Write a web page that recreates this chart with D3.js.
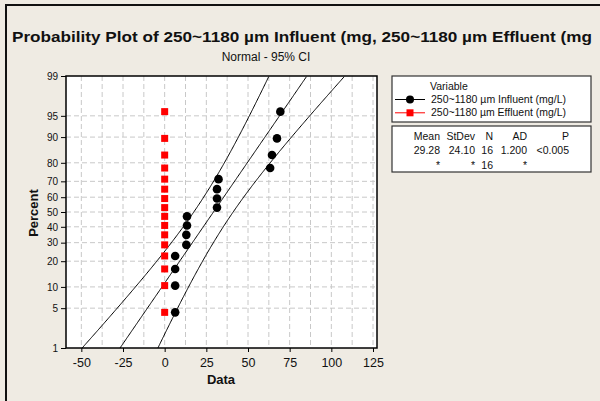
<!DOCTYPE html>
<html>
<head>
<meta charset="utf-8">
<script src="https://cdn.jsdelivr.net/npm/d3@7"></script>
<style>
  body { margin: 0; background: #efebe3; }
  svg { display: block; font-family: "Liberation Sans", Arial, sans-serif; }
</style>
</head>
<body>
<div id="chart"></div>
<script>
// data
var influent = [6.3, 6.3, 6.3, 6.3, 13.0, 13.0, 13.4, 13.4, 31.4, 31.4, 31.4, 32.3, 63.3, 64.4, 67.4, 69.4];
var effluent = [0, 0, 0, 0, 0, 0, 0, 0, 0, 0, 0, 0, 0, 0, 0, 0];
var percents = [4.3, 10.4, 16.5, 22.6, 28.7, 34.8, 40.9, 47.0, 53.0, 59.1, 65.2, 71.3, 77.4, 83.5, 89.6, 95.7];
var percentTicks = [1, 5, 10, 20, 30, 40, 50, 60, 70, 80, 90, 95, 99];
var xTicks = [-50, -25, 0, 25, 50, 75, 100, 125];
var seriesNames = ["250~1180 \u00b5m Influent (mg/L)", "250~1180 \u00b5m Effluent (mg/L)"];
var statHeads = ["Mean", "StDev", "N", "AD", "P"];
var statInfluent = ["29.28", "24.10", "16", "1.200", "<0.005"];
var statEffluent = ["*", "*", "16", "*", ""];
var fitMean = 29.28, fitSd = 24.10, fitN = 16;

var W = 600, H = 401;
var margin = {top: 76, right: 223, bottom: 53, left: 66},
    width = W - margin.left - margin.right,
    height = H - margin.top - margin.bottom;

// inverse normal cdf (Acklam)
function qnorm(p) {
  var a = [-39.69683028665376, 220.9460984245205, -275.9285104469687, 138.3577518672690, -30.66479806614716, 2.506628277459239];
  var b = [-54.47609879822406, 161.5858368580409, -155.6989798598866, 66.80131188771972, -13.28068155288572];
  var c = [-0.007784894002430293, -0.3223964580411365, -2.400758277161838, -2.549732539343734, 4.374664141464968, 2.938163982698783];
  var d = [0.007784695709041462, 0.3224671290700398, 2.445134137142996, 3.754408661907416];
  var q, r;
  if (p < 0.02425) {
    q = Math.sqrt(-2 * Math.log(p));
    return (((((c[0]*q+c[1])*q+c[2])*q+c[3])*q+c[4])*q+c[5]) / ((((d[0]*q+d[1])*q+d[2])*q+d[3])*q+1);
  } else if (p > 1 - 0.02425) {
    q = Math.sqrt(-2 * Math.log(1 - p));
    return -(((((c[0]*q+c[1])*q+c[2])*q+c[3])*q+c[4])*q+c[5]) / ((((d[0]*q+d[1])*q+d[2])*q+d[3])*q+1);
  }
  q = p - 0.5; r = q * q;
  return (((((a[0]*r+a[1])*r+a[2])*r+a[3])*r+a[4])*r+a[5])*q / (((((b[0]*r+b[1])*r+b[2])*r+b[3])*r+b[4])*r+1);
}

var svg = d3.select("#chart").append("svg")
    .attr("width", W).attr("height", H);

// outer frame
svg.append("rect")
  .attr("x", 6).attr("y", 5).attr("width", 620).attr("height", 420)
  .attr("fill", "#efebe3").attr("stroke", "#111").attr("stroke-width", 2);

// titles
svg.append("text")
  .attr("x", 12).attr("y", 42)
  .attr("textLength", 580).attr("lengthAdjust", "spacingAndGlyphs")
  .style("font-size", "15px").style("font-weight", "bold").attr("fill", "#111")
  .text("Probability Plot of 250~1180 \u00b5m Influent (mg, 250~1180 \u00b5m Effluent (mg");
svg.append("text")
  .attr("x", 266).attr("y", 61).attr("text-anchor", "middle")
  .style("font-size", "12px").attr("fill", "#111")
  .text("Normal - 95% CI");

var g = svg.append("g")
  .attr("transform", "translate(" + margin.left + "," + margin.top + ")");

var x = d3.scaleLinear().domain([-59.2, 127.4]).range([0, width]);
var zMax = -qnorm(0.01);
var y = d3.scaleLinear().domain([-zMax, zMax]).range([height, 0]);
var yp = function(p) { return y(qnorm(p / 100)); };

g.append("rect").attr("width", width).attr("height", height).attr("fill", "#fff");

// grid
var xGrid = d3.range(-50, 126, 12.5);
g.selectAll(".vgrid").data(xGrid).enter().append("line")
  .attr("x1", d => x(d)).attr("x2", d => x(d))
  .attr("y1", 0).attr("y2", height)
  .attr("stroke", "#c8c8c8").attr("stroke-dasharray", "5,3");
g.selectAll(".hgrid").data(percentTicks.slice(1, -1)).enter().append("line")
  .attr("x1", 0).attr("x2", width)
  .attr("y1", d => yp(d)).attr("y2", d => yp(d))
  .attr("stroke", "#c8c8c8").attr("stroke-dasharray", "5,3");

// fitted line and CI
g.append("clipPath").attr("id", "clip")
  .append("rect").attr("width", width).attr("height", height);
var zs = d3.range(-zMax, zMax + 0.001, 0.02);
function ci(sign) {
  return zs.map(function(z) {
    var se = fitSd * Math.sqrt(1 / fitN + z * z / (2 * fitN));
    return [fitMean + z * fitSd + sign * 1.96 * se, z];
  });
}
var line = d3.line().x(d => x(d[0])).y(d => y(d[1]));
[ci(-1), ci(0), ci(1)].forEach(function(pts) {
  g.append("path").datum(pts)
    .attr("clip-path", "url(#clip)")
    .attr("d", line).attr("fill", "none")
    .attr("stroke", "#000").attr("stroke-width", 1);
});

// points
g.selectAll(".eff").data(effluent).enter().append("rect")
  .attr("x", d => x(d) - 3.5).attr("y", (d, i) => yp(percents[i]) - 3.5)
  .attr("width", 7).attr("height", 7).attr("fill", "#ff0000");
g.selectAll(".inf").data(influent).enter().append("circle")
  .attr("cx", d => x(d)).attr("cy", (d, i) => yp(percents[i]))
  .attr("r", 4.3).attr("fill", "#000");

// frame of plot area
g.append("rect").attr("width", width).attr("height", height)
  .attr("fill", "none").attr("stroke", "#000").attr("stroke-width", 1.5);

// axes
var xAxis = g.append("g").attr("transform", "translate(0," + height + ")")
  .call(d3.axisBottom(x).tickValues(xTicks).tickFormat(d => String(d)).tickSize(4).tickPadding(6));
xAxis.select(".domain").remove();
xAxis.selectAll("text").style("font-size", "12.5px").attr("fill", "#111");

var yAxis = g.append("g")
  .call(d3.axisLeft(y).tickValues(percentTicks.map(p => qnorm(p / 100)))
    .tickFormat((d, i) => percentTicks[i]).tickSize(5).tickPadding(3));
yAxis.select(".domain").remove();
yAxis.selectAll("text").style("font-size", "10px").attr("fill", "#111");

svg.append("text")
  .attr("x", 221).attr("y", 384).attr("text-anchor", "middle")
  .style("font-size", "13px").style("font-weight", "bold").attr("fill", "#111")
  .text("Data");
svg.append("text")
  .attr("transform", "translate(38,213)rotate(-90)").attr("text-anchor", "middle")
  .style("font-size", "13px").style("font-weight", "bold").attr("fill", "#111")
  .text("Percent");

// legend
var leg = svg.append("g");
leg.append("rect").attr("x", 392).attr("y", 76).attr("width", 199).attr("height", 46)
  .attr("fill", "#fff").attr("stroke", "#333").attr("stroke-width", 1.2);
leg.append("text").attr("x", 430).attr("y", 90)
  .style("font-size", "10.5px").attr("fill", "#111").text("Variable");
var colors = ["#000", "#ff0000"];
seriesNames.forEach(function(name, i) {
  var yy = 99.5 + i * 13.3;
  leg.append("line").attr("x1", 395).attr("x2", 425).attr("y1", yy).attr("y2", yy)
    .attr("stroke", colors[i]).attr("stroke-width", 1);
  if (i === 0) {
    leg.append("circle").attr("cx", 410).attr("cy", yy).attr("r", 4).attr("fill", colors[i]);
  } else {
    leg.append("rect").attr("x", 406.5).attr("y", yy - 3.5).attr("width", 7).attr("height", 7).attr("fill", colors[i]);
  }
  leg.append("text").attr("x", 431).attr("y", yy + 3.5)
    .attr("textLength", 135).attr("lengthAdjust", "spacingAndGlyphs")
    .style("font-size", "10.5px").attr("fill", "#111").text(name);
});

// stats table
leg.append("rect").attr("x", 392).attr("y", 126).attr("width", 199).attr("height", 46)
  .attr("fill", "#fff").attr("stroke", "#333").attr("stroke-width", 1.2);
var colX = [440, 475, 493, 527, 569];
[statHeads, statInfluent, statEffluent].forEach(function(row, r) {
  row.forEach(function(v, c) {
    leg.append("text").attr("x", colX[c]).attr("y", 139.5 + r * 14.5)
      .attr("text-anchor", "end")
      .style("font-size", "10.5px").attr("fill", "#111").text(v);
  });
});
</script>
</body>
</html>
